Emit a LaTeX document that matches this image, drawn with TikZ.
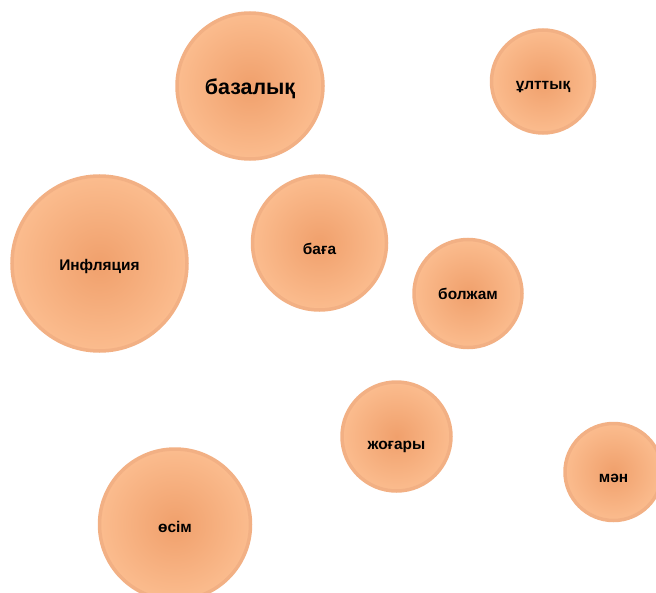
\documentclass[tikz,border=0pt]{standalone}
\usepackage{fontspec}
\setmainfont{Liberation Sans}

\definecolor{bubblein}{RGB}{240,160,108}
\definecolor{bubbleout}{RGB}{251,188,142}
\definecolor{bubbleedge}{RGB}{242,176,132}

\begin{document}
\begin{tikzpicture}[
    x=1bp, y=-1bp,
    % Bubble behind one word
    bubble/.style={circle, inner sep=0pt, minimum size=#1,
                   inner color=bubblein, outer color=bubbleout,
                   draw=bubbleedge, line width=3.5bp},
    % The word itself, set on its baseline
    word/.style={anchor=base, inner sep=0pt,
                 font=\bfseries\fontsize{15.5}{18}\selectfont},
    bigword/.style={word, font=\bfseries\fontsize{21.5}{24}\selectfont}
]

% === CANVAS ===
\clip (0,0) rectangle (656,593);
\useasboundingbox (0,0) rectangle (656,593);

% === BUBBLES ===
	\node [bubble=146bp] (bazalyq) at (250,86) {};
	\node [bubble=103bp] (ulttyq) at (543,81.5) {};
	\node [bubble=175bp] (inflation) at (99.5,263.5) {};
	\node [bubble=134bp] (baga) at (319.5,243) {};
	\node [bubble=108bp] (bolzham) at (468,293.5) {};
	\node [bubble=109bp] (zhogary) at (396.5,436.5) {};
	\node [bubble=97bp] (man) at (613.5,472) {};
	\node [bubble=151bp] (osim) at (175,524.5) {};

% === WORDS ===
	\node [bigword] (bazalyq-w) at ([yshift=-9bp]bazalyq.center) {базалық};
	\node [word] (ulttyq-w) at ([yshift=-8.5bp]ulttyq.center) {ұлттық};
	\node [word] (inflation-w) at ([yshift=-6.5bp]inflation.center) {Инфляция};
	\node [word] (baga-w) at ([yshift=-11.5bp]baga.center) {баға};
	\node [word] (bolzham-w) at ([yshift=-6bp]bolzham.center) {болжам};
	\node [word] (zhogary-w) at ([yshift=-13bp]zhogary.center) {жоғары};
	\node [word] (man-w) at ([yshift=-10.5bp]man.center) {мән};
	\node [word] (osim-w) at ([yshift=-8bp]osim.center) {өсім};

\end{tikzpicture}
\end{document}
